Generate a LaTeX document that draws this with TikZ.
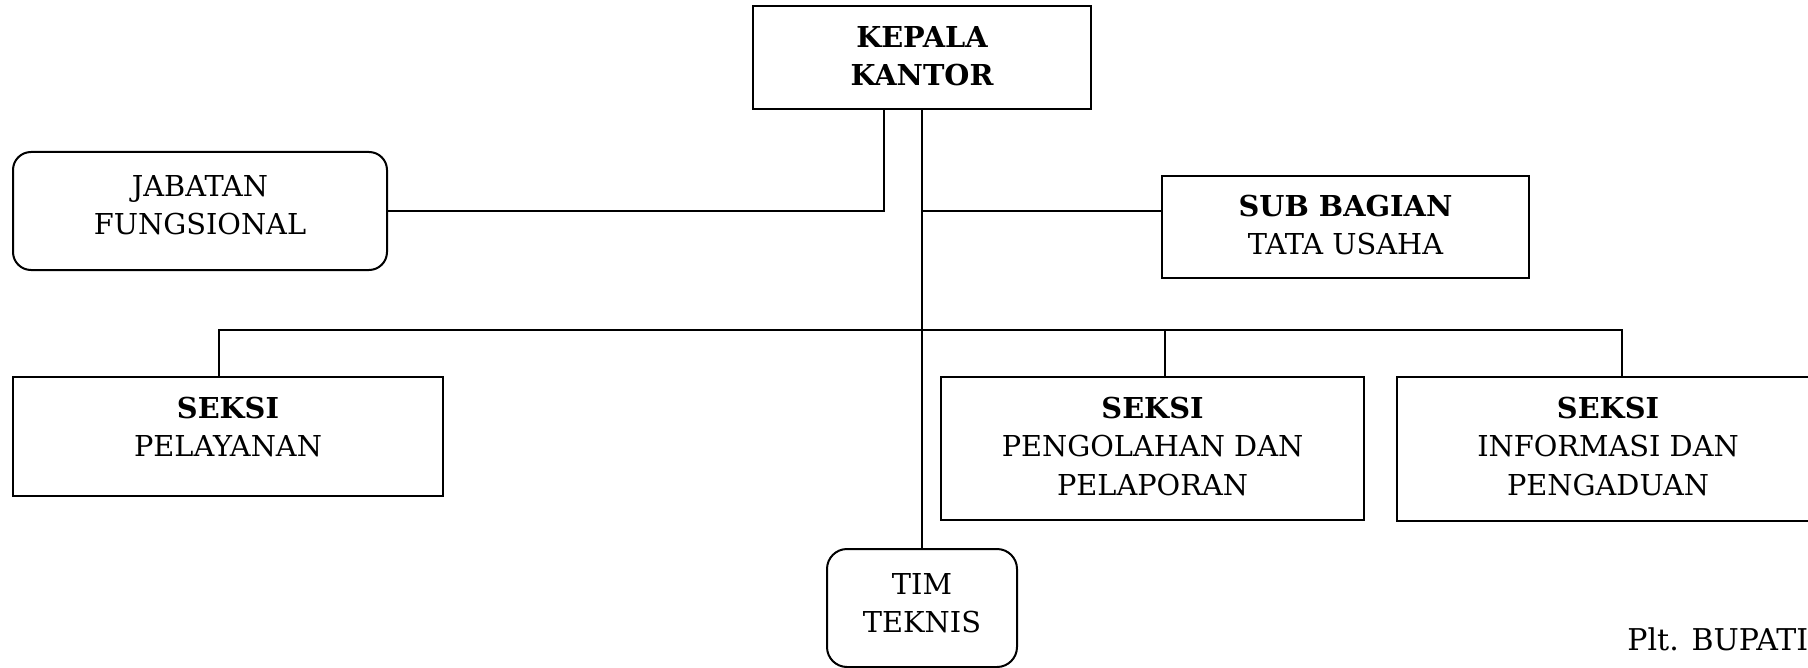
\documentclass[tikz,border=0pt]{standalone}
\usepackage{fontspec}
\setmainfont{DejaVu Serif}
\begin{document}
\begin{tikzpicture}[x=0.5pt,y=-0.5pt,
  box/.style={draw, line width=1pt, inner sep=0pt},
  rbox/.style={box, rounded corners=9pt},
  lbl/.style={align=center, inner sep=0pt, anchor=north, font=\fontsize{14.4}{19.1}\selectfont},
  conn/.style={line width=1pt}]
\useasboundingbox (0,0) rectangle (1808,668);
\clip (0,0) rectangle (1808,668);
% boxes
\node[box, minimum width=169pt, minimum height=51.5pt] (kepala) at (922,57.5) {};
\node[rbox, minimum width=187pt, minimum height=59pt] (jabatan) at (200,211) {};
\node[box, minimum width=183.5pt, minimum height=51pt] (subbag) at (1345.5,227) {};
\node[box, minimum width=215pt, minimum height=59.5pt] (pel) at (228,436.5) {};
\node[box, minimum width=211.5pt, minimum height=71.5pt] (peng) at (1152.5,448.5) {};
\node[box, minimum width=211pt, minimum height=72pt] (info) at (1608,449) {};
\node[rbox, rounded corners=10pt, minimum width=95pt, minimum height=59pt] (tim) at (922,608) {};
% texts
\node[lbl] (kepalaT) at ([yshift=-10.5pt]kepala.north) {\bfseries KEPALA\\\bfseries KANTOR};
\node[lbl] (jabatanT) at ([yshift=-12pt]jabatan.north) {JABATAN\\FUNGSIONAL};
\node[lbl] (subbagT) at ([yshift=-10pt]subbag.north) {\bfseries SUB BAGIAN\\TATA USAHA};
\node[lbl] (pelT) at ([yshift=-10.5pt]pel.north) {\bfseries SEKSI\\PELAYANAN};
\node[lbl] (pengT) at ([yshift=-10.5pt]peng.north) {\bfseries SEKSI\\PENGOLAHAN DAN\\PELAPORAN};
\node[lbl] (infoT) at ([yshift=-10.5pt]info.north) {\bfseries SEKSI\\INFORMASI DAN\\PENGADUAN};
\node[lbl] (timT) at ([yshift=-12.5pt]tim.north) {TIM\\TEKNIS};
\node[inner sep=0pt, anchor=base west, font=\fontsize{15}{19.1}\selectfont] (bupati) at (1627,650) {Plt. BUPATI};
% connectors
\coordinate (bus) at (922,330);
\draw[conn] ([xshift=-19pt]kepala.south) |- (jabatan.east);
\draw[conn] (kepala.south) -- (tim.north);
\draw[conn] (kepala.south |- jabatan.east) -- (subbag.west |- jabatan.east);
\draw[conn] ([xshift=-4.5pt]pel.north) |- (bus) -| ([xshift=7pt]info.north);
\draw[conn] ([xshift=6.25pt]peng.north) -- ([xshift=6.25pt]peng.north |- bus);
\end{tikzpicture}
\end{document}
